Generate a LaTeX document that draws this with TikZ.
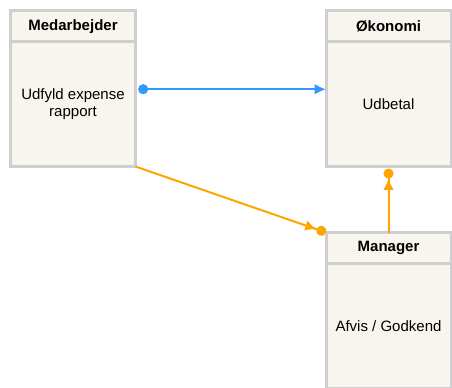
\documentclass[tikz,border=0pt]{standalone}
\usepackage{fontspec}
\setmainfont{Liberation Sans}
\usetikzlibrary{arrows.meta,positioning}
\definecolor{laneborder}{HTML}{CFCFCF}
\definecolor{lanefill}{HTML}{F7F5EE}
\definecolor{flowblue}{HTML}{3399FF}
\definecolor{floworange}{HTML}{FFA500}
\begin{document}
\begin{tikzpicture}[x=0.75pt,y=-0.75pt]
        \tikzstyle{lanehead}=[rectangle,draw=laneborder,fill=lanefill,line width=2.25pt,outer sep=0pt,inner sep=0pt,minimum width=93.75pt,minimum height=23.6pt,font=\bfseries\fontsize{11.25}{13.5}\selectfont]
        \tikzstyle{lanebody}=[lanehead,minimum height=93.4pt,align=center,font=\fontsize{11.25}{12.75}\selectfont]
        \tikzstyle{edge}=[draw,line width=1.5pt]
        \useasboundingbox (0,0) rectangle (452,387);
       \begin{scope}
         \node [lanehead] (medh) at (73,26.25) {Medarbejder};
         \node [lanebody,below=0pt of medh] (med) {Udfyld expense\\rapport};

         \node [lanehead] (okoh) at (388.5,26.25) {Økonomi};
         \node [lanebody,below=0pt of okoh] (oko) {Udbetal};

         \node [lanehead] (manh) at (388.5,248.25) {Manager};
         \node [lanebody,below=0pt of manh] (man) {Afvis / Godkend};

         \path[edge,flowblue,{Circle[length=7.5pt]}-{Latex[length=8.5pt,width=8pt]},shorten <=2pt] ([yshift=11.25pt]med.east) -- ([yshift=11.25pt]oko.west);
         \path[edge,floworange,-{Latex[length=8.5pt,width=8pt]Circle[length=7.5pt]}] (med.south east) -- (manh.north west);
         \path[edge,floworange,-{Latex[length=8.5pt,width=8pt]Circle[length=7.5pt]},shorten >=1.5pt] (manh.north) -- (oko.south);
        \end{scope}
      \end{tikzpicture}
\end{document}
